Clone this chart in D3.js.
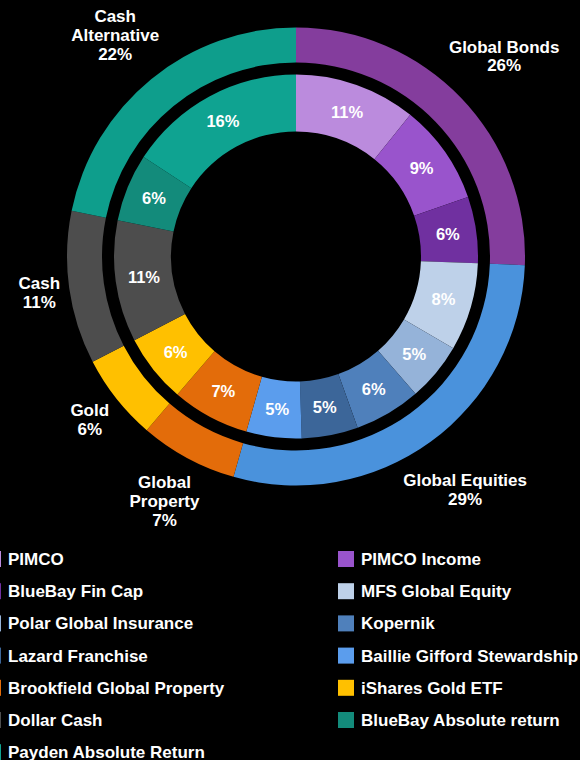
<!DOCTYPE html>
<html>
<head>
<meta charset="utf-8">
<script src="https://cdn.jsdelivr.net/npm/d3@7"></script>
<style>
  html, body { margin: 0; padding: 0; background: #000; }
  svg { display: block; }
  text { font-family: "Liberation Sans", Arial, sans-serif; font-weight: bold; fill: #fff; }
</style>
</head>
<body>
<svg id="chart" width="580" height="760"></svg>
<script>
// Asset classes (outer ring)
const classNames = ["Global Bonds", "Global Equities", "Global Property", "Gold", "Cash", "Cash Alternative"];
const classLabels = [["Global Bonds"], ["Global Equities"], ["Global", "Property"], ["Gold"], ["Cash"], ["Cash", "Alternative"]];
const classValues = [25.6, 28.8, 6.9, 6.1, 10.8, 21.8];
const classColors = ["#843d9d", "#4a92dc", "#e36c0a", "#ffc000", "#4d4d4d", "#0e9e8c"];

// Funds (inner ring)
const fundNames = ["PIMCO", "PIMCO Income", "BlueBay Fin Cap", "MFS Global Equity", "Polar Global Insurance",
  "Kopernik", "Lazard Franchise", "Baillie Gifford Stewardship", "Brookfield Global Property",
  "iShares Gold ETF", "Dollar Cash", "BlueBay Absolute return", "Payden Absolute Return"];
const fundValues = [10.8, 8.9, 5.9, 7.8, 5.2, 5.9, 5.0, 4.9, 6.9, 6.1, 10.8, 6.0, 15.8];
const fundColors = ["#bb8bdd", "#9954cc", "#7030a0", "#bed1e9", "#95b3d9", "#4f80bb", "#3c6699",
  "#5b9ded", "#e36c0a", "#ffc000", "#4d4d4d", "#138b7b", "#0fa391"];

// Legend order (two columns, row by row)
const legendOrder = ["PIMCO", "PIMCO Income", "BlueBay Fin Cap", "MFS Global Equity", "Polar Global Insurance",
  "Kopernik", "Lazard Franchise", "Baillie Gifford Stewardship", "Brookfield Global Property",
  "iShares Gold ETF", "Dollar Cash", "BlueBay Absolute return", "Payden Absolute Return"];

const svg = d3.select("#chart");
const cx = 296, cy = 256.5;
const g = svg.append("g").attr("transform", `translate(${cx},${cy})`);

const pie = d3.pie().sort(null).value(d => d.value);

const outerArc = d3.arc().innerRadius(194).outerRadius(229);
const innerArc = d3.arc().innerRadius(125).outerRadius(182);
const innerLabelArc = d3.arc().innerRadius(153.5).outerRadius(153.5);

const classData = classNames.map((n, i) => ({ name: n, value: classValues[i], color: classColors[i], lines: classLabels[i] }));
const fundData = fundNames.map((n, i) => ({ name: n, value: fundValues[i], color: fundColors[i] }));

// outer ring
g.selectAll(".outer")
  .data(pie(classData))
  .enter().append("path")
  .attr("class", "outer")
  .attr("d", outerArc)
  .attr("fill", d => d.data.color);

// inner ring
const innerArcs = pie(fundData);
g.selectAll(".inner")
  .data(innerArcs)
  .enter().append("path")
  .attr("class", "inner")
  .attr("d", innerArc)
  .attr("fill", d => d.data.color);

// inner labels
g.selectAll(".inner-label")
  .data(innerArcs)
  .enter().append("text")
  .attr("class", "inner-label")
  .attr("transform", d => `translate(${innerLabelArc.centroid(d)})`)
  .attr("text-anchor", "middle")
  .attr("dy", "0.35em")
  .style("font-size", "16.5px")
  .text(d => Math.round(d.data.value) + "%");

// outer labels: block pushed out so its nearest edge sits just past the ring
const r0 = 236, lineH = 19;
g.selectAll(".outer-label")
  .data(pie(classData))
  .enter().append("text")
  .attr("class", "outer-label")
  .attr("text-anchor", "middle")
  .style("font-size", "17px")
  .each(function(d) {
    const t = d3.select(this);
    const lines = d.data.lines.concat([Math.round(d.data.value) + "%"]);
    lines.forEach((l, i) => {
      t.append("tspan").attr("x", 0).attr("y", (i - (lines.length - 1) / 2) * lineH).attr("dy", "0.35em").text(l);
    });
    const bb = this.getBBox();
    const a = (d.startAngle + d.endAngle) / 2;
    const s = Math.sin(a), c = Math.cos(a);
    const extra = bb.width / 2 * Math.abs(s) + bb.height / 2 * Math.abs(c);
    const r = r0 + extra;
    t.attr("transform", `translate(${r * s},${-r * c})`);
  });

// legend
const colorOf = d3.scaleOrdinal().domain(fundNames).range(fundColors);
const legend = svg.append("g");
const colX = [-15, 338], rowY0 = 559, rowH = 32.2;
legendOrder.forEach((name, i) => {
  const x = colX[i % 2], y = rowY0 + Math.floor(i / 2) * rowH;
  legend.append("rect")
    .attr("x", x).attr("y", y - 8)
    .attr("width", 16).attr("height", 16)
    .attr("fill", colorOf(name));
  legend.append("text")
    .attr("x", x + 23).attr("y", y)
    .attr("dy", "0.35em")
    .style("font-size", "17px")
    .text(name);
});
</script>
</body>
</html>
